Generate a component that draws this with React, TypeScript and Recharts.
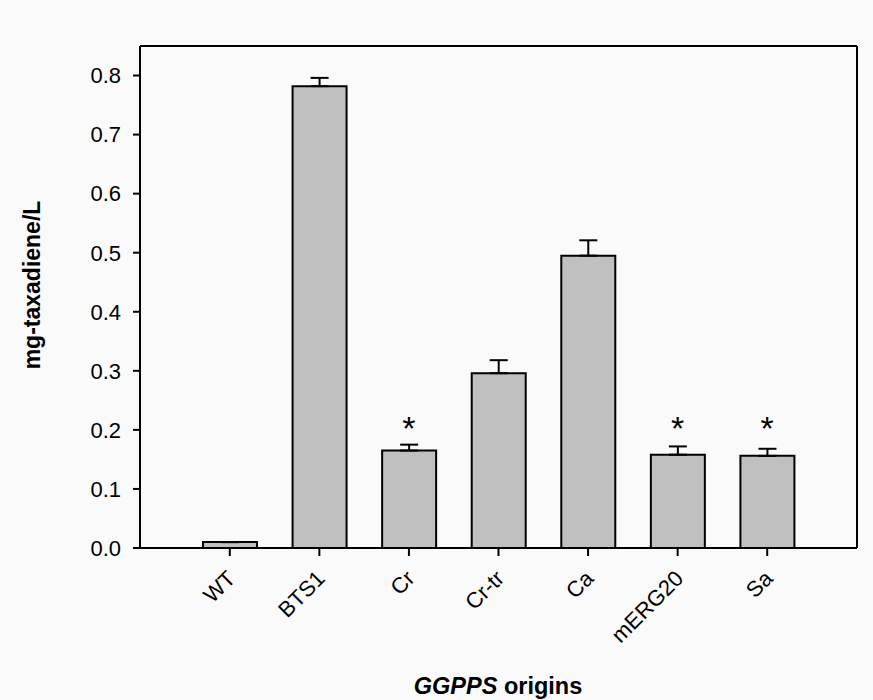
import React from "react";
import {
  Bar,
  ComposedChart,
  ErrorBar,
  Scatter,
  XAxis,
  YAxis,
} from "recharts";

const origins = ["WT", "BTS1", "Cr", "Cr-tr", "Ca", "mERG20", "Sa"];
const taxadiene = [0.01, 0.782, 0.165, 0.296, 0.495, 0.158, 0.156];
const errUp = [0, 0.014, 0.01, 0.022, 0.026, 0.014, 0.012];
const significant = [false, false, true, false, false, true, true];
const starLevel = 0.213;
const yTicks = [0, 0.1, 0.2, 0.3, 0.4, 0.5, 0.6, 0.7, 0.8];

const data = origins.map((name, i) => ({
  name,
  value: taxadiene[i],
  err: [0, errUp[i]],
  star: significant[i] ? starLevel : null,
}));

const FONT = "'Liberation Sans', Arial, Helvetica, sans-serif";

function RotatedTick(props: any) {
  const { x, y, payload } = props;
  return (
    <g transform={`translate(${x - 3},${y + 12})`}>
      <text
        x={0}
        y={0}
        dy={14}
        textAnchor="end"
        transform="rotate(-45)"
        fill="#000"
        fontSize={22}
        fontFamily={FONT}
      >
        {payload.value}
      </text>
    </g>
  );
}

function Star(props: any) {
  const { cx, cy, payload } = props;
  if (payload.star == null) return null;
  return (
    <text
      x={cx}
      y={cy + 18}
      textAnchor="middle"
      fontSize={34}
      fontFamily={FONT}
      fill="#000"
    >
      *
    </text>
  );
}

export default function App() {
  return (
    <div style={{ position: "absolute", left: 0, top: 0, width: 873, height: 700, background: "#fafafa" }}>
      <ComposedChart
        width={873}
        height={700}
        data={data}
        margin={{ top: 45, right: 15, left: 0, bottom: 0 }}
      >
        <XAxis
          dataKey="name"
          height={152}
          padding={{ left: 45, right: 45 }}
          axisLine={{ stroke: "#000", strokeWidth: 2 }}
          tickLine={{ stroke: "#000", strokeWidth: 2 }}
          tickSize={8}
          tick={<RotatedTick />}
          interval={0}
          label={{
            content: () => (
              <text x={498} y={694} textAnchor="middle" fontSize={23.5} fontWeight="bold" fontFamily={FONT} fill="#000">
                <tspan fontStyle="italic">GGPPS</tspan> origins
              </text>
            ),
          }}
        />
        <XAxis
          xAxisId="top"
          dataKey="name"
          orientation="top"
          height={1}
          tick={false}
          tickLine={false}
          axisLine={{ stroke: "#000", strokeWidth: 2 }}
        />
        <YAxis
          width={140}
          domain={[0, 0.85]}
          ticks={yTicks}
          tickFormatter={(v: number) => v.toFixed(1)}
          axisLine={{ stroke: "#000", strokeWidth: 2 }}
          tickLine={{ stroke: "#000", strokeWidth: 2 }}
          tickSize={7}
          tickMargin={12}
          tick={{ fill: "#000", fontSize: 22, fontFamily: FONT }}
          allowDataOverflow
          label={{
            content: () => (
              <text
                x={0}
                y={0}
                transform="translate(40,285) rotate(-90)"
                textAnchor="middle"
                fontSize={23}
                fontWeight="bold"
                fontFamily={FONT}
                fill="#000"
              >
                mg-taxadiene/L
              </text>
            ),
          }}
        />
        <YAxis
          yAxisId="right"
          orientation="right"
          width={1}
          domain={[0, 0.85]}
          tick={false}
          tickLine={false}
          axisLine={{ stroke: "#000", strokeWidth: 2 }}
        />
        <Bar
          dataKey="value"
          barSize={54}
          fill="#c0c0c0"
          stroke="#000"
          strokeWidth={2}
          isAnimationActive={false}
        >
          <ErrorBar dataKey="err" direction="y" width={9} stroke="#000" strokeWidth={2} />
        </Bar>
        <Scatter dataKey="star" shape={<Star />} isAnimationActive={false} />
      </ComposedChart>
    </div>
  );
}
